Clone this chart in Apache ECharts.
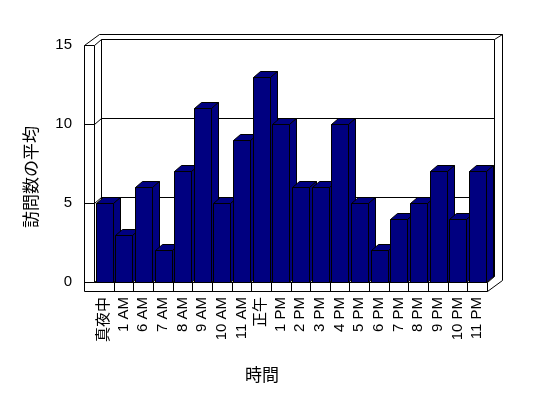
<!DOCTYPE html>
<html>
<head>
<meta charset="utf-8">
<script src="https://cdn.jsdelivr.net/npm/echarts@6/dist/echarts.min.js"></script>
<style>
  html, body { margin: 0; padding: 0; background: #fff; }
  #chart { width: 548px; height: 398px; }
</style>
</head>
<body>
<div id="chart"></div>
<script>
const categories = ['真夜中', '1 AM', '6 AM', '7 AM', '8 AM', '9 AM', '10 AM', '11 AM', '正午',
  '1 PM', '2 PM', '3 PM', '4 PM', '5 PM', '6 PM', '7 PM', '8 PM', '9 PM', '10 PM', '11 PM'];
const visits = [5, 3, 6, 2, 7, 11, 5, 9, 13, 10, 6, 6, 10, 5, 2, 4, 5, 7, 4, 7];
const yTicks = [0, 5, 10, 15];

const font = '"Liberation Sans", "Noto Sans CJK JP", sans-serif';
// depth of the plot (front -> back wall) and of the outer box
const DX = 7, DY = -6;
const OX = 15, OY = -11;
const px = (v) => Math.round(v) + 0.5;

const line = (x1, y1, x2, y2) => ({
  type: 'line',
  shape: { x1: px(x1), y1: px(y1), x2: px(x2), y2: px(y2) },
  style: { stroke: '#000', lineWidth: 1 }
});

const renderFrame = (params, api) => {
  const cs = params.coordSys;
  const x0 = cs.x, x1 = cs.x + cs.width;
  const y1 = cs.y + cs.height;
  const bw = api.size([1, 0])[0];
  const yTop = api.coord([0, yTicks[yTicks.length - 1]])[1];
  const slab = 10, floor = 9;
  const ox0 = x0 - slab, oy1 = y1 + floor;
  const children = [];

  // outer box outline
  children.push({
    type: 'polygon',
    shape: { points: [
      [px(ox0), px(oy1)], [px(ox0), px(yTop)], [px(ox0 + OX), px(yTop + OY)],
      [px(x1 + OX), px(yTop + OY)], [px(x1 + OX), px(oy1 + OY)], [px(x1), px(oy1)]
    ] },
    style: { fill: '#fff', stroke: '#000', lineWidth: 1 }
  });

  // walls
  children.push(line(x0, yTop, x0, y1));
  children.push(line(x0 + DX, yTop + DY, x0 + DX, y1 + DY));
  children.push(line(x1 + DX, yTop + DY, x1 + DX, y1 + DY));
  children.push(line(x1 + DX, yTop + DY, x1 + OX, yTop + OY));

  yTicks.forEach((v) => {
    const y = api.coord([0, v])[1];
    children.push(line(ox0, y, x0, y));
    children.push(line(x0, y, x0 + DX, y + DY));
    children.push(line(x0 + DX, y + DY, x1 + DX, y + DY));
  });

  // floor
  children.push(line(x0, y1, x1, y1));
  children.push(line(x1, y1, x1 + DX, y1 + DY));
  children.push(line(x1, y1, x1, oy1));
  for (let i = 1; i < categories.length; i++) {
    children.push(line(x0 + i * bw, y1, x0 + i * bw, oy1));
  }
  return { type: 'group', children };
};

const renderBar = (params, api) => {
  const idx = api.value(0);
  const top = api.coord([idx, api.value(1)]);
  const base = api.coord([idx, 0]);
  const bw = api.size([1, 0])[0];
  const l = Math.round(top[0] - bw / 2 + bw * 0.08) + 0.5;
  const r = Math.round(l + bw * 0.84) + 0.5;
  const yt = Math.round(top[1]) + 0.5;
  const yb = Math.round(base[1]) + 0.5;
  const st = { fill: '#000080', stroke: '#000', lineWidth: 1 };
  return {
    type: 'group',
    children: [
      { type: 'polygon', shape: { points: [[l, yt], [r, yt], [r + DX, yt + DY], [l + DX, yt + DY]] }, style: st },
      { type: 'polygon', shape: { points: [[r, yt], [r + DX, yt + DY], [r + DX, yb + DY], [r, yb]] }, style: st },
      { type: 'rect', shape: { x: l, y: yt, width: r - l, height: yb - yt }, style: st }
    ]
  };
};

const buildOption = () => ({
  backgroundColor: '#fff',
  animation: false,
  grid: { left: 94, right: 61, top: 45, bottom: 116 },
  xAxis: {
    type: 'category',
    data: categories,
    axisLine: { show: false },
    axisTick: { show: false },
    splitLine: { show: false },
    axisLabel: {
      interval: 0,
      rotate: 90,
      margin: 15,
      color: '#000',
      fontSize: 15,
      fontFamily: font
    }
  },
  yAxis: {
    type: 'value',
    min: 0,
    max: 15,
    interval: 5,
    axisLine: { show: false },
    axisTick: { show: false },
    splitLine: { show: false },
    axisLabel: { margin: 22, color: '#000', fontSize: 15, fontFamily: font }
  },
  graphic: [
    {
      type: 'text',
      x: 32, y: 177,
      rotation: Math.PI / 2,
      style: { text: '訪問数の平均', fill: '#000', font: '17px ' + font, align: 'center', verticalAlign: 'middle' }
    },
    {
      type: 'text',
      x: 262, y: 376,
      style: { text: '時間', fill: '#000', font: '17px ' + font, align: 'center', verticalAlign: 'middle' }
    }
  ],
  series: [
    {
      type: 'custom',
      renderItem: renderFrame,
      data: [[0, 0]],
      silent: true,
      z: 1
    },
    {
      name: '訪問数の平均',
      type: 'custom',
      renderItem: renderBar,
      encode: { x: 0, y: 1 },
      data: visits.map((v, i) => [i, v]),
      z: 2
    }
  ]
});

const chart = echarts.init(document.getElementById('chart'));
chart.setOption(buildOption());
</script>
</body>
</html>
